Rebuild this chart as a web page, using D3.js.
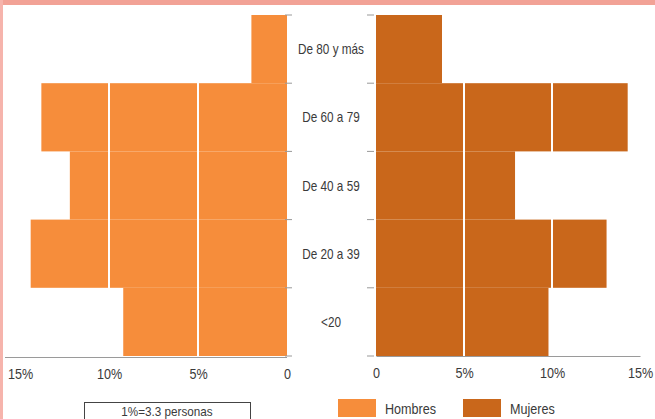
<!DOCTYPE html>
<html><head><meta charset="utf-8">
<script src="https://cdn.jsdelivr.net/npm/d3@7"></script>
<style>
body{margin:0;background:#fff;}
svg{display:block;}
text{font-family:"Liberation Sans","Arial",sans-serif;fill:#3a3a3a;}
</style></head>
<body><svg id="c" width="655" height="419"></svg>
<script>
const categories = ["De 80 y más","De 60 a 79","De 40 a 59","De 20 a 39","<20"];
const hombres = [2.0, 13.8, 12.2, 14.4, 9.2];
const mujeres = [3.75, 14.3, 7.9, 13.1, 9.8];
const tickValues = [0, 5, 10, 15];
const tickLabels = ["0", "5%", "10%", "15%"];
const legendNote = "1%=3.3 personas";
const seriesNames = ["Hombres", "Mujeres"];
const colors = {Hombres: "#F68D3B", Mujeres: "#C9671B"};

const svg = d3.select("#c");
// frame decorations
svg.append("rect").attr("x",0).attr("y",0).attr("width",655).attr("height",5).attr("fill","#f2a296");
svg.append("rect").attr("x",0).attr("y",0).attr("width",3).attr("height",419).attr("fill","#f6b4ac");

const y = d3.scaleBand().domain(categories).range([15, 356]).padding(0);
const xL = d3.scaleLinear().domain([0, 15]).range([287, 20]);
const xR = d3.scaleLinear().domain([0, 15]).range([376, 640]);

// condensed text helper
function narrow(sel, x, yy, k) {
  sel.attr("transform", `translate(${x},${yy}) scale(${k},1)`);
}

// bars
svg.append("g").selectAll("rect").data(categories).join("rect")
  .attr("x", (d,i) => xL(hombres[i]))
  .attr("y", d => y(d))
  .attr("width", (d,i) => xL(0) - xL(hombres[i]))
  .attr("height", y.bandwidth())
  .attr("fill", colors.Hombres);
svg.append("g").selectAll("rect").data(categories).join("rect")
  .attr("x", xR(0))
  .attr("y", d => y(d))
  .attr("width", (d,i) => xR(mujeres[i]) - xR(0))
  .attr("height", y.bandwidth())
  .attr("fill", colors.Mujeres);

// white gridlines over bars
[5,10].forEach(v => {
  svg.append("line").attr("x1", xL(v)).attr("x2", xL(v)).attr("y1", 15).attr("y2", 356)
    .attr("stroke", "#fff").attr("stroke-width", 2);
  svg.append("line").attr("x1", xR(v)).attr("x2", xR(v)).attr("y1", 15).attr("y2", 356)
    .attr("stroke", "#fff").attr("stroke-width", 2);
});

// bottom axes
const axL = d3.axisBottom(xL).tickValues(tickValues).tickFormat((d,i) => tickLabels[i]).tickSize(0).tickPadding(12);
const axR = d3.axisBottom(xR).tickValues(tickValues).tickFormat((d,i) => tickLabels[i]).tickSize(0).tickPadding(12);
const gL = svg.append("g").attr("transform","translate(0,357)").call(axL);
const gR = svg.append("g").attr("transform","translate(0,356)").call(axR);
[gL,gR].forEach(g => {
  g.select(".domain").attr("stroke","#9a9a9a").attr("stroke-width",1.2);
  g.selectAll("text").attr("font-size",14).attr("fill","#3a3a3a")
    .style("font-family",'"Liberation Sans",Arial,sans-serif');
  g.selectAll(".tick text").attr("transform","scale(0.9,1)")
    .attr("x", function(){ return 0; });
});
gL.select(".domain").attr("d", `M5,0.5H${xL(0)}`);

// category boundary ticks
const bounds = categories.map(d => y(d)).concat([y.range()[1]]);
svg.append("g").selectAll("line.tl").data(bounds).join("line")
  .attr("x1", 285).attr("x2", 292).attr("y1", d => d).attr("y2", d => d)
  .attr("stroke","#999").attr("stroke-width",1);
svg.append("g").selectAll("line.tr").data(bounds).join("line")
  .attr("x1", 367).attr("x2", 374).attr("y1", d => d).attr("y2", d => d)
  .attr("stroke","#999").attr("stroke-width",1);

// category labels
svg.append("g").selectAll("text").data(categories).join("text")
  .attr("text-anchor","middle").attr("font-size",14)
  .each(function(d){ narrow(d3.select(this), 331, y(d) + y.bandwidth()/2 + 5, 0.84); })
  .text(d => d);

// legend note box
svg.append("rect").attr("x",84.5).attr("y",402.5).attr("width",166).attr("height",24)
  .attr("fill","none").attr("stroke","#444").attr("stroke-width",1);
svg.append("text").attr("text-anchor","middle").attr("font-size",13)
  .call(s => narrow(s, 167, 416, 0.9)).text(legendNote);

// series legend
const legX = [338, 463];
seriesNames.forEach((s,i) => {
  svg.append("rect").attr("x", legX[i]).attr("y", 399).attr("width", 38).attr("height", 18).attr("fill", colors[s]);
  svg.append("text").attr("font-size",14)
    .call(t => narrow(t, legX[i] + 47, 414, 0.9)).text(s);
});
</script></body></html>
